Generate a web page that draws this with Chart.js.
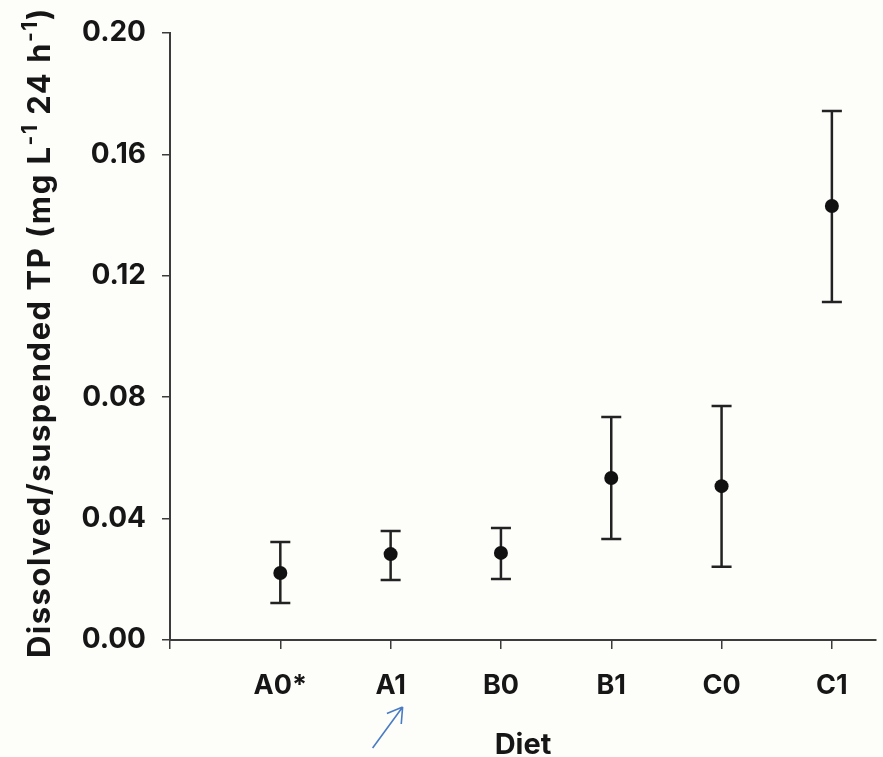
<!DOCTYPE html>
<html>
<head>
<meta charset="utf-8">
<script src="https://cdn.jsdelivr.net/npm/chart.js@4.4.1/dist/chart.umd.min.js"></script>
<style>
  html, body { margin: 0; padding: 0; background: #fdfdfa; }
  #wrap { width: 883px; height: 757px; }
</style>
</head>
<body>
<div id="wrap"><canvas id="chart" width="883" height="757"></canvas></div>
<script>
const diets = ['A0*', 'A1', 'B0', 'B1', 'C0', 'C1']
const meanTP = [0.0221, 0.0283, 0.0287, 0.0534, 0.0507, 0.1430]
const upperTP = [0.0323, 0.0359, 0.0369, 0.0735, 0.0771, 0.1743]
const lowerTP = [0.0122, 0.0198, 0.0201, 0.0333, 0.0241, 0.1114]
const yTicks = [0, 0.04, 0.08, 0.12, 0.16, 0.20]
// [text, superscript?]
const yTitleParts = [
  ['Dissolved/suspended TP (mg L', false],
  ['-1', true],
  [' 24 h', false],
  ['-1', true],
  [')', false],
]
const xTitle = 'Diet'

const FONT = "Inter, 'Liberation Sans', Arial, sans-serif"
const INK = '#161616'
const AXIS = '#3c3c3c'

// error bars from the upper / lower arrays, through the chart scales
const errorBars = {
  id: 'errorBars',
  beforeDatasetsDraw(chart) {
    const { ctx, scales: { x, y } } = chart
    ctx.save()
    ctx.strokeStyle = '#222'
    ctx.lineWidth = 2.5
    diets.forEach((d, i) => {
      const px = x.getPixelForValue(i + 1)
      const top = y.getPixelForValue(upperTP[i])
      const bot = y.getPixelForValue(lowerTP[i])
      ctx.beginPath()
      ctx.moveTo(px, top); ctx.lineTo(px, bot)
      ctx.moveTo(px - 10, top); ctx.lineTo(px + 10, top)
      ctx.moveTo(px - 10, bot); ctx.lineTo(px + 10, bot)
      ctx.stroke()
    })
    ctx.restore()
  },
}

// rotated y title with superscripts
const yTitle = {
  id: 'yTitle',
  afterDraw(chart) {
    const { ctx, chartArea } = chart
    ctx.save()
    ctx.fillStyle = INK
    ctx.textBaseline = 'alphabetic'
    ctx.letterSpacing = '1.5px'
    let total = 0
    yTitleParts.forEach(([t, sup]) => {
      ctx.font = `bold ${sup ? 21 : 31}px ${FONT}`
      total += ctx.measureText(t).width
    })
    const mid = (chartArea.top + chartArea.bottom) / 2 - 4
    ctx.translate(50, mid + total / 2)
    ctx.rotate(-Math.PI / 2)
    let cx = 0
    yTitleParts.forEach(([t, sup]) => {
      ctx.font = `bold ${sup ? 21 : 31}px ${FONT}`
      ctx.fillText(t, cx, sup ? -13 : 0)
      cx += ctx.measureText(t).width
    })
    ctx.restore()
  },
}

// blue hand-drawn arrow pointing at A1
const arrow = {
  id: 'arrow',
  afterDraw(chart) {
    const { ctx, scales: { x }, chartArea } = chart
    const tipX = x.getPixelForValue(2) + 12
    const tipY = chartArea.bottom + 67
    const tailX = tipX - 30
    const tailY = tipY + 41
    const ang = Math.atan2(tipY - tailY, tipX - tailX)
    ctx.save()
    ctx.strokeStyle = '#4a7cc4'
    ctx.lineWidth = 1.6
    ctx.beginPath()
    ctx.moveTo(tailX, tailY); ctx.lineTo(tipX, tipY)
    ;[-0.55, 0.55].forEach(a => {
      ctx.moveTo(tipX, tipY)
      ctx.lineTo(tipX - 17 * Math.cos(ang + a), tipY - 17 * Math.sin(ang + a))
    })
    ctx.stroke()
    ctx.restore()
  },
}

new Chart(document.getElementById('chart'), {
  type: 'scatter',
  data: {
    datasets: [{
      data: meanTP.map((v, i) => ({ x: i + 1, y: v })),
      pointRadius: 7,
      pointHoverRadius: 7,
      pointBackgroundColor: '#111',
      pointBorderColor: '#111',
      pointBorderWidth: 0,
    }],
  },
  options: {
    responsive: false,
    animation: false,
    layout: { padding: { top: 33, right: 0, bottom: 0, left: 0 } },
    plugins: { legend: { display: false }, tooltip: { enabled: false } },
    scales: {
      x: {
        type: 'linear',
        min: 0,
        max: 6.4,
        afterBuildTicks: s => { s.ticks = [0, ...diets.map((_, i) => i + 1)].map(v => ({ value: v })) },
        afterFit: s => { s.height = 117; s.paddingLeft = 0; s.paddingRight = 0 },
        grid: { drawOnChartArea: false, tickLength: 9, color: AXIS, lineWidth: 1.5 },
        border: { color: AXIS, width: 2 },
        ticks: {
          callback: v => diets[v - 1] ?? '',
          color: INK,
          font: { family: FONT, size: 27, weight: 'bold' },
          padding: 21,
          maxRotation: 0,
          autoSkip: false,
        },
        title: {
          display: true,
          text: xTitle,
          color: INK,
          font: { family: FONT, size: 29, weight: 'bold', lineHeight: 1 },
          padding: { top: 0, bottom: -3 },
        },
      },
      y: {
        min: 0,
        max: 0.2,
        afterBuildTicks: s => { s.ticks = yTicks.map(v => ({ value: v })) },
        afterFit: s => { s.width = 170 },
        grid: { drawOnChartArea: false, tickLength: 8, color: AXIS, lineWidth: 1.5 },
        border: { color: AXIS, width: 2 },
        ticks: {
          callback: v => v.toFixed(2),
          color: INK,
          font: { family: FONT, size: 28, weight: 'bold' },
          padding: 16,
        },
      },
    },
  },
  plugins: [errorBars, yTitle, arrow],
})
</script>
</body>
</html>
